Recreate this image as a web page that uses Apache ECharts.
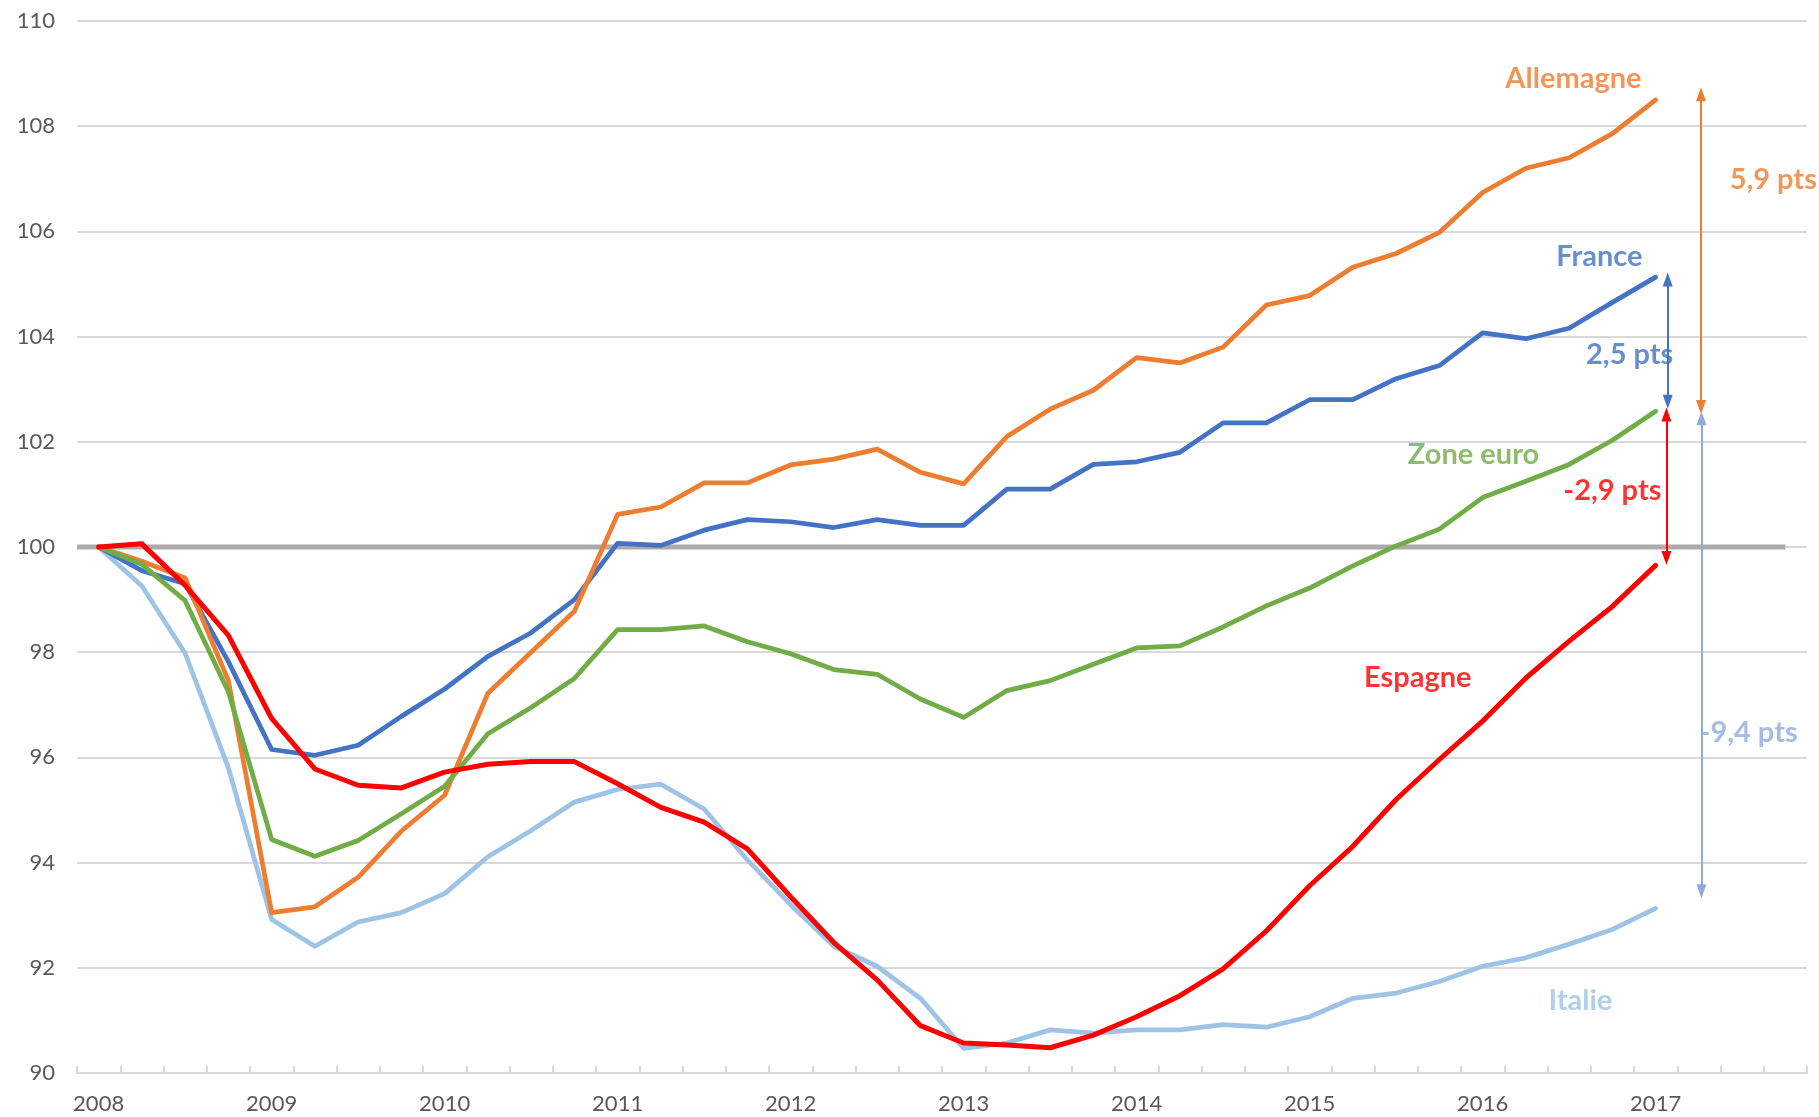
<!DOCTYPE html>
<html>
<head>
<meta charset="utf-8">
<script src="https://cdn.jsdelivr.net/npm/echarts@6/dist/echarts.min.js"></script>
<style>
html,body{margin:0;padding:0;background:#fff;}
#chart{width:1819px;height:1117px;}
</style>
</head>
<body>
<div id="chart"></div>
<script>
// Quarters 2008T1 .. 2017T4 (data up to 2017T1)
const years = ['2008','2009','2010','2011','2012','2013','2014','2015','2016','2017'];
const quarters = [];
years.forEach(y => { for (let q = 1; q <= 4; q++) quarters.push(y + ' T' + q); });

const allemagne = [100, 99.73, 99.41, 97.46, 93.05, 93.16, 93.72, 94.6, 95.28, 97.22, 98.0, 98.78,
  100.62, 100.76, 101.22, 101.22, 101.56, 101.67, 101.86, 101.42, 101.2, 102.1, 102.62, 102.98,
  103.6, 103.5, 103.8, 104.6, 104.78, 105.32, 105.58, 105.98, 106.74, 107.2, 107.4, 107.86, 108.5];
const france = [100, 99.55, 99.3, 97.82, 96.15, 96.04, 96.23, 96.78, 97.3, 97.92, 98.37, 99.0,
  100.07, 100.03, 100.32, 100.52, 100.48, 100.37, 100.52, 100.41, 100.41, 101.1, 101.1, 101.57,
  101.62, 101.8, 102.36, 102.36, 102.8, 102.8, 103.2, 103.45, 104.07, 103.96, 104.16, 104.65, 105.13];
const zoneEuro = [100, 99.67, 98.98, 97.25, 94.44, 94.12, 94.42, 94.93, 95.45, 96.45, 96.95, 97.5,
  98.43, 98.43, 98.5, 98.2, 97.97, 97.67, 97.58, 97.11, 96.76, 97.27, 97.46, 97.77,
  98.08, 98.12, 98.48, 98.88, 99.22, 99.64, 100.02, 100.34, 100.94, 101.25, 101.57, 102.03, 102.58];
const espagne = [100, 100.06, 99.27, 98.32, 96.74, 95.78, 95.47, 95.42, 95.72, 95.87, 95.92, 95.92,
  95.5, 95.05, 94.77, 94.26, 93.35, 92.48, 91.77, 90.9, 90.57, 90.53, 90.48, 90.72,
  91.07, 91.47, 91.98, 92.7, 93.56, 94.31, 95.2, 95.96, 96.69, 97.51, 98.21, 98.87, 99.65];
const italie = [100, 99.26, 97.98, 95.8, 92.92, 92.41, 92.87, 93.05, 93.41, 94.11, 94.61, 95.15,
  95.39, 95.49, 95.02, 94.05, 93.2, 92.41, 92.03, 91.42, 90.47, 90.57, 90.82, 90.76,
  90.82, 90.82, 90.92, 90.87, 91.07, 91.42, 91.52, 91.74, 92.03, 92.19, 92.45, 92.73, 93.13];

const baseValue = 100;
const yTicks = { min: 90, max: 110, step: 2 };

// Annotation texts (x in quarter index units, y in index value)
const labels = [
  { text: 'Allemagne', x: 34.10, y: 108.90, color: '#ED7D31' },
  { text: 'France',    x: 34.70, y: 105.52, color: '#4472C4' },
  { text: '5,9 pts',   x: 38.72, y: 106.98, color: '#ED7D31' },
  { text: '2,5 pts',   x: 35.40, y: 103.65, color: '#4472C4' },
  { text: 'Zone euro', x: 31.79, y: 101.75, color: '#70AD47' },
  { text: '-2,9 pts',  x: 35.00, y: 101.08, color: '#FF0000' },
  { text: 'Espagne',   x: 30.50, y: 97.51,  color: '#FF0000' },
  { text: '-9,4 pts',  x: 38.15, y: 96.48,  color: '#8FAADC' },
  { text: 'Italie',    x: 34.26, y: 91.37,  color: '#9DC3E6' }
];
// Gap arrows: x position, tip values
const arrows = [
  { x: 37.05, from: 108.74, to: 102.53, color: '#ED7D31' },
  { x: 37.06, from: 102.58, to: 93.32,  color: '#8FAADC' },
  { x: 36.28, from: 105.22, to: 102.63, color: '#4472C4' },
  { x: 36.25, from: 102.65, to: 99.66,  color: '#FF0000' }
];

const FONT = 'Lato';
const chart = echarts.init(document.getElementById('chart'), null, { renderer: 'canvas' });

const gridTop = 21, gridBottom = 44, gridH = 1117 - gridTop - gridBottom;
const pxPerUnit = gridH / (yTicks.max - yTicks.min);
const headLen = 14;
const inset = (headLen / 2) / pxPerUnit;

function lineSeries(name, data, color, width) {
  return {
    name, type: 'line', data, xAxisIndex: 0, yAxisIndex: 0,
    symbol: 'none', smooth: false,
    lineStyle: { color, width, cap: 'round', join: 'round' },
    itemStyle: { color }
  };
}

const option = {
  animation: false,
  backgroundColor: '#ffffff',
  grid: { left: 77, right: 12, top: gridTop, bottom: gridBottom, containLabel: false },
  xAxis: [
    {
      type: 'category', data: quarters, boundaryGap: true,
      axisLine: { show: true, lineStyle: { color: '#D9D9D9', width: 2 } },
      axisTick: { show: true, inside: true, length: 7, interval: 0, lineStyle: { color: '#D9D9D9', width: 2 } },
      axisLabel: { interval: 3, formatter: v => v.slice(0, 4), margin: 20, fontSize: 22, color: '#595959', fontFamily: FONT },
      splitLine: { show: false }
    },
    { type: 'value', min: -0.5, max: quarters.length - 0.5, show: false }
  ],
  yAxis: {
    type: 'value', min: yTicks.min, max: yTicks.max, interval: yTicks.step,
    axisLine: { show: false }, axisTick: { show: false },
    axisLabel: { margin: 22, fontSize: 22, color: '#595959', fontFamily: FONT },
    splitLine: { lineStyle: { color: '#D9D9D9', width: 2 } }
  },
  series: [
    {
      name: 'base', type: 'line', xAxisIndex: 1, yAxisIndex: 0, symbol: 'none',
      data: [[-0.5, baseValue], [quarters.length - 1, baseValue]],
      lineStyle: { color: '#AEAAAA', width: 5 }, z: 1
    },
    lineSeries('Italie', italie, '#9DC3E6', 4.75),
    lineSeries('France', france, '#4472C4', 4.75),
    lineSeries('Allemagne', allemagne, '#ED7D31', 4.75),
    lineSeries('Zone euro', zoneEuro, '#70AD47', 4.75),
    lineSeries('Espagne', espagne, '#FF0000', 5),
    {
      name: 'annotations', type: 'scatter', xAxisIndex: 1, yAxisIndex: 0,
      symbolSize: 0, silent: true, z: 5,
      data: labels.map(l => ({
        value: [l.x, l.y], name: l.text,
        label: { show: true, position: 'inside', formatter: l.text, color: l.color,
          fontSize: 29, fontWeight: 'bold', fontFamily: FONT }
      })),
      markLine: {
        silent: true, animation: false,
        symbol: ['triangle', 'triangle'], symbolSize: [10, headLen],
        label: { show: false },
        data: arrows.map(a => {
          const dir = a.from > a.to ? 1 : -1;
          return [
            { coord: [a.x, a.from - dir * inset], lineStyle: { color: a.color, width: 2, type: 'solid' }, itemStyle: { color: a.color } },
            { coord: [a.x, a.to + dir * inset] }
          ];
        })
      }
    }
  ]
};
chart.setOption(option);
</script>
</body>
</html>
